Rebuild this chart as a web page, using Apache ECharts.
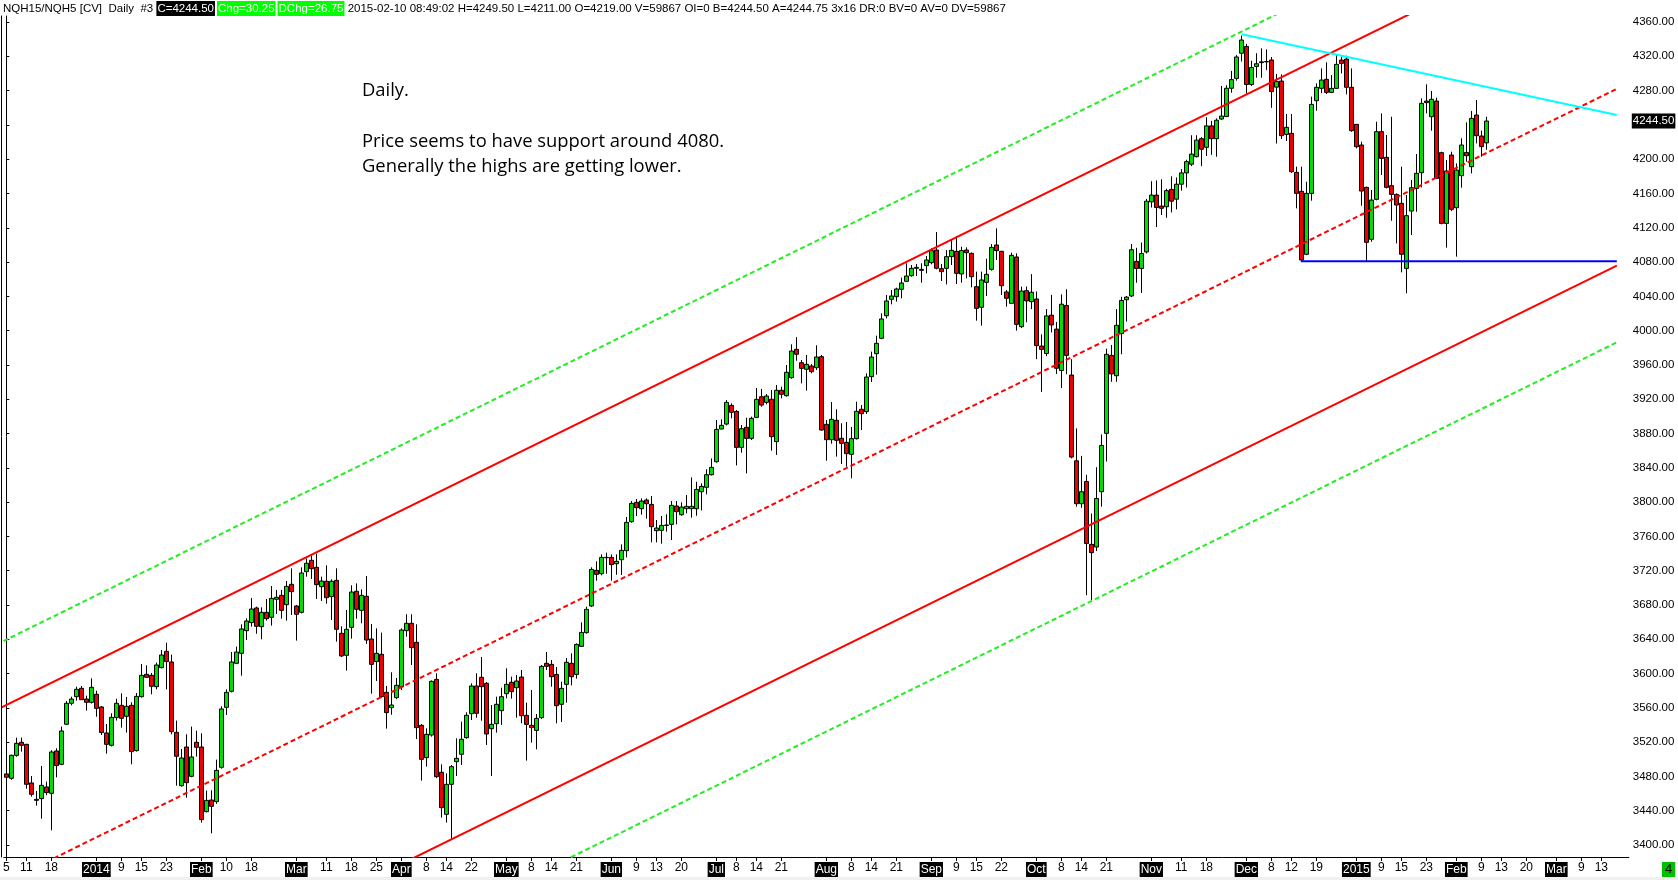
<!DOCTYPE html>
<html><head><meta charset="utf-8">
<script src="https://cdn.jsdelivr.net/npm/echarts@6/dist/echarts.min.js"></script>
<style>html,body{margin:0;padding:0;background:#fff;overflow:hidden}#c{width:1678px;height:880px}</style>
</head><body><div id="c"></div>
<script>
// ---------- DATA ----------
const firstDay = '2013-12-05';
const lastTradedDay = '2015-02-10';
const totalSlots = 325; // trading days shown incl. future blank days
const holidays = ['2013-12-25','2014-01-01','2014-01-20','2014-02-17','2014-04-18','2014-05-26','2014-07-04','2014-09-01','2014-11-27','2014-12-25','2015-01-01','2015-01-19'];

const opens = [3482.9,3477.8,3504.6,3519.8,3517.4,3472.4,3453.3,3454.1,3467.7,3460.3,
3509.7,3494.1,3540.8,3565.3,3573.0,3582.8,3570.3,3566.4,3575.8,3561.0,
3530.7,3516.3,3548.6,3562.9,3550.1,3562.9,3510.1,3573.0,3599.1,3597.9,
3584.7,3606.9,3625.9,3613.5,3531.4,3469.2,3514.3,3480.1,3519.8,3514.3,
3438.9,3452.5,3450.6,3490.6,3560.6,3579.3,3611.9,3623.6,3650.0,3659.4,
3676.5,3654.7,3671.4,3665.6,3686.6,3691.2,3680.3,3704.1,3678.8,3671.4,
3718.8,3732.1,3723.9,3701.3,3707.6,3689.7,3708.7,3646.9,3621.2,3653.9,
3695.9,3673.7,3690.1,3640.3,3613.9,3622.4,3578.1,3560.2,3571.9,3584.7,
3650.0,3658.6,3636.4,3539.6,3501.9,3528.3,3593.2,3484.8,3435.8,3470.8,
3497.2,3505.8,3525.2,3553.2,3585.5,3595.6,3588.6,3535.7,3541.5,3556.7,
3576.5,3589.8,3583.5,3595.9,3551.2,3539.6,3533.7,3548.5,3611.9,3610.7,
3599.0,3564.1,3587.4,3611.9,3599.0,3631.7,3647.7,3678.8,3720.4,3716.5,
3735.1,3735.5,3728.1,3732.8,3743.3,3777.1,3799.7,3792.3,3802.4,3797.3,
3766.6,3767.0,3772.8,3774.0,3795.4,3785.3,3792.3,3792.3,3792.3,3812.1,
3817.2,3831.9,3847.1,3885.2,3891.0,3912.8,3905.8,3863.8,3887.2,3874.3,
3898.8,3922.9,3916.3,3919.9,3870.5,3930.4,3924.1,3945.1,3978.2,3962.6,
3954.9,3958.7,3956.8,3969.6,3890.7,3872.8,3895.4,3874.4,3869.7,3855.7,
3874.0,3908.2,3905.5,3946.3,3973.1,3991.0,4017.4,4036.5,4039.6,4048.2,
4057.5,4064.1,4072.7,4071.5,4075.8,4079.3,4094.0,4072.3,4072.7,4086.3,
4092.5,4066.1,4094.0,4090.2,4051.3,4027.2,4056.3,4071.5,4099.9,4092.5,
4045.1,4031.8,4085.9,4004.6,4046.6,4033.8,4036.9,3982.0,3973.3,4018.0,
4001.8,3953.5,4029.4,3948.2,3848.1,3798.1,3824.0,3750.7,3747.6,3812.1,
3880.2,3971.1,3947.4,3996.5,4036.0,4040.4,4080.8,4072.5,4091.8,4150.2,
4158.1,4145.3,4144.5,4164.7,4153.3,4170.8,4184.0,4194.1,4202.9,4223.9,
4213.8,4238.8,4223.9,4246.8,4249.8,4282.7,4294.2,4323.6,4331.5,4287.1,
4308.2,4312.6,4313.5,4315.7,4284.0,4291.1,4228.9,4230.1,4184.6,4162.5,
4089.0,4160.1,4268.2,4282.6,4293.1,4277.9,4282.6,4315.6,4316.8,4283.8,
4240.6,4216.5,4167.1,4106.5,4153.1,4232.1,4202.1,4169.1,4158.9,4148.5,
4072.6,4139.5,4165.9,4184.2,4267.8,4249.5,4267.8,4207.6,4125.1,4204.8,
4143.4,4180.7,4207.9,4191.2,4251.5,4227.0,4219.0];

const closes = [3479.0,3504.6,3518.6,3516.3,3470.8,3459.1,3452.1,3469.6,3461.1,3508.5,
3492.6,3533.0,3565.3,3570.3,3581.6,3569.5,3566.4,3583.9,3559.4,3531.1,
3517.4,3548.9,3565.3,3547.8,3561.8,3508.9,3573.4,3597.9,3595.6,3585.1,
3610.0,3621.6,3613.9,3532.2,3503.5,3501.5,3472.7,3502.7,3514.0,3429.6,
3452.1,3445.1,3487.1,3558.7,3578.1,3613.5,3625.1,3652.0,3661.3,3675.3,
3655.1,3671.4,3664.0,3687.7,3688.9,3673.7,3701.7,3695.5,3669.1,3717.3,
3728.6,3722.3,3703.7,3707.9,3688.5,3707.6,3651.6,3620.5,3651.6,3695.1,
3674.9,3691.2,3639.1,3610.7,3623.6,3573.0,3554.4,3563.3,3586.3,3650.8,
3658.6,3630.2,3536.9,3499.9,3529.1,3590.9,3479.7,3443.6,3470.8,3491.4,
3501.1,3523.3,3551.3,3585.5,3553.6,3584.7,3529.5,3540.8,3564.1,3573.0,
3587.4,3578.9,3591.3,3550.8,3540.7,3536.9,3547.7,3608.4,3608.4,3596.3,
3562.5,3582.7,3613.1,3596.3,3634.0,3648.0,3674.9,3721.5,3715.7,3735.5,
3735.5,3727.0,3730.9,3743.7,3776.3,3798.5,3793.5,3801.2,3798.1,3771.3,
3769.7,3772.8,3773.2,3796.2,3788.8,3794.2,3795.0,3795.0,3814.8,3818.3,
3831.9,3840.5,3884.8,3889.5,3916.3,3904.7,3863.8,3885.6,3874.3,3897.7,
3919.8,3913.2,3923.7,3876.3,3930.4,3925.7,3951.4,3976.2,3972.4,3956.0,
3960.7,3952.1,3969.2,3884.1,3872.8,3896.5,3872.0,3868.5,3856.5,3874.0,
3905.9,3903.1,3945.9,3969.2,3985.2,4013.6,4034.6,4040.4,4048.6,4055.6,
4063.7,4072.7,4073.8,4070.3,4082.4,4093.3,4072.7,4068.8,4086.3,4093.7,
4066.8,4093.3,4090.9,4062.9,4026.0,4059.1,4065.7,4097.1,4093.3,4052.4,
4037.7,4087.8,4007.3,4046.2,4034.7,4044.8,3982.5,3978.1,4017.2,4006.6,
3956.1,4030.8,3971.1,3852.5,3798.1,3812.1,3751.6,3741.0,3804.2,3866.1,
3972.4,3949.5,4006.2,4035.2,4039.1,4094.4,4072.5,4090.0,4151.0,4158.1,
4143.6,4142.7,4163.3,4151.0,4170.8,4184.0,4197.1,4205.9,4222.2,4211.6,
4238.8,4223.9,4245.4,4250.3,4282.7,4292.8,4319.2,4339.0,4287.1,4306.9,
4311.3,4313.5,4313.9,4278.8,4290.5,4227.4,4237.1,4185.4,4160.1,4082.4,
4160.1,4263.9,4283.8,4292.3,4277.9,4282.6,4310.6,4311.7,4283.8,4233.2,
4214.5,4162.8,4103.0,4152.3,4232.1,4200.9,4167.1,4158.9,4146.5,4089.0,
4134.1,4166.7,4183.5,4265.1,4265.9,4269.8,4177.6,4125.1,4186.2,4141.5,
4187.3,4216.5,4204.0,4247.6,4227.4,4214.6,4244.5];

const lows = [3469.2,3476.0,3503.0,3508.9,3465.7,3456.4,3445.9,3430.7,3458.0,3417.1,
3479.0,3493.0,3540.0,3562.9,3568.4,3569.1,3556.7,3565.0,3549.7,3528.3,
3506.6,3515.0,3545.1,3536.9,3531.1,3494.1,3509.0,3571.9,3595.0,3575.8,
3581.6,3606.0,3581.6,3529.1,3469.2,3468.0,3455.2,3479.0,3503.1,3426.1,
3438.0,3413.6,3447.9,3489.0,3551.7,3578.0,3611.0,3597.5,3639.1,3654.7,
3646.5,3639.9,3661.7,3655.9,3669.5,3664.0,3661.7,3668.3,3638.4,3670.0,
3713.0,3710.3,3687.0,3684.6,3681.5,3662.5,3637.2,3619.3,3603.4,3640.7,
3664.0,3658.6,3634.5,3576.5,3591.3,3572.0,3535.7,3552.0,3570.0,3580.8,
3643.0,3610.0,3523.7,3475.1,3491.4,3526.4,3478.0,3431.9,3426.1,3406.6,
3480.5,3493.3,3524.0,3545.8,3548.5,3545.0,3516.7,3480.5,3531.1,3540.0,
3571.1,3570.7,3548.5,3541.9,3498.4,3519.4,3511.6,3547.0,3604.1,3584.7,
3541.9,3543.5,3566.0,3586.2,3594.0,3631.0,3646.5,3677.6,3708.3,3714.5,
3716.5,3708.3,3715.3,3715.0,3735.5,3776.0,3783.7,3785.3,3780.6,3753.0,
3753.0,3751.5,3765.5,3755.7,3774.0,3784.0,3786.8,3781.8,3784.1,3790.3,
3809.0,3831.0,3846.0,3885.0,3889.5,3897.7,3842.8,3857.6,3833.5,3872.4,
3898.0,3911.3,3914.0,3860.0,3855.0,3921.0,3923.0,3944.0,3964.9,3938.5,
3930.0,3950.2,3954.1,3883.3,3848.3,3868.1,3853.0,3844.4,3841.3,3827.7,
3873.0,3884.1,3902.8,3940.1,3948.6,3990.0,4014.3,4030.7,4033.8,4037.7,
4057.0,4062.9,4063.7,4055.9,4066.8,4077.3,4071.5,4057.9,4054.0,4076.5,
4054.4,4055.9,4061.0,4050.5,4011.6,4005.8,4040.4,4070.0,4082.4,4041.6,
4028.0,4031.0,4000.0,4003.0,4009.7,4025.1,3966.7,3928.5,3970.2,3997.8,
3949.5,3932.9,3949.1,3851.0,3794.6,3793.3,3691.4,3684.8,3742.8,3794.6,
3847.3,3940.3,3940.3,3972.4,4010.6,4039.0,4055.8,4043.9,4090.0,4143.6,
4120.8,4134.8,4131.7,4137.9,4141.4,4163.3,4166.9,4191.9,4202.0,4191.9,
4203.7,4205.0,4202.9,4245.9,4249.0,4277.5,4291.5,4313.9,4276.6,4285.4,
4295.0,4295.0,4303.8,4259.9,4218.3,4223.5,4221.2,4184.0,4142.6,4081.2,
4088.0,4151.6,4256.5,4276.8,4276.0,4277.0,4281.8,4300.1,4275.6,4232.0,
4212.6,4145.7,4081.2,4103.7,4152.0,4181.5,4165.9,4128.2,4101.8,4068.0,
4043.5,4111.5,4138.7,4167.1,4253.4,4233.2,4176.8,4124.0,4096.8,4139.5,
4086.3,4166.7,4197.1,4183.4,4218.4,4202.9,4211.0];

const highs = [3492.2,3505.4,3525.2,3525.2,3518.0,3480.5,3463.0,3492.2,3473.9,3510.5,
3512.8,3538.1,3568.0,3573.0,3584.7,3585.5,3574.2,3594.4,3580.0,3562.0,
3541.2,3553.6,3570.7,3576.9,3572.7,3566.4,3577.3,3611.2,3609.6,3600.7,
3612.7,3627.5,3636.0,3622.0,3545.1,3512.0,3529.1,3538.1,3533.4,3530.3,
3463.4,3463.8,3499.6,3561.8,3581.6,3625.1,3631.4,3657.4,3664.4,3688.0,
3678.0,3677.2,3687.0,3702.1,3697.5,3697.5,3707.9,3722.7,3680.0,3723.9,
3734.4,3737.9,3739.8,3713.0,3726.2,3709.9,3722.7,3655.1,3674.1,3702.9,
3705.2,3698.2,3713.8,3657.8,3652.7,3647.7,3585.5,3601.4,3594.8,3652.7,
3669.1,3669.1,3657.4,3541.0,3536.1,3592.0,3600.3,3494.1,3483.6,3493.3,
3524.4,3543.9,3554.8,3588.6,3600.3,3619.3,3590.1,3563.3,3573.0,3583.5,
3606.1,3596.4,3598.3,3604.1,3566.0,3580.8,3552.8,3610.0,3625.1,3615.8,
3607.6,3590.5,3618.1,3623.6,3635.2,3659.7,3678.0,3723.9,3730.9,3739.0,
3741.0,3739.0,3739.0,3750.7,3782.6,3801.2,3803.6,3804.3,3804.3,3807.1,
3779.1,3783.7,3785.7,3801.2,3801.2,3799.7,3808.2,3828.8,3823.8,3821.8,
3838.2,3851.0,3895.7,3896.5,3919.0,3915.1,3907.4,3889.9,3898.4,3899.6,
3933.0,3932.0,3926.0,3930.7,3936.6,3934.6,3959.9,3984.0,3992.4,3965.7,
3971.6,3961.1,3982.9,3971.6,3895.8,3916.7,3908.2,3891.9,3893.4,3887.6,
3917.1,3913.2,3950.2,3975.5,3994.1,4020.2,4041.6,4047.4,4050.1,4061.8,
4078.5,4076.5,4077.7,4078.5,4087.0,4096.0,4115.0,4077.7,4094.0,4105.7,
4110.4,4097.9,4097.1,4091.0,4068.8,4068.8,4083.9,4101.0,4119.3,4093.0,
4047.4,4090.9,4090.2,4051.3,4051.4,4065.9,4045.7,3995.6,4025.1,4041.7,
4010.1,4042.2,4048.3,3966.7,3885.9,3853.9,3831.9,3786.7,3840.7,3878.9,
3979.0,3983.3,4025.1,4039.5,4040.4,4101.0,4096.6,4102.8,4153.7,4174.3,
4175.2,4176.5,4165.5,4180.0,4178.7,4188.4,4199.3,4227.9,4227.9,4225.7,
4248.9,4244.6,4247.6,4285.4,4286.3,4302.9,4321.4,4344.2,4334.5,4314.8,
4323.6,4329.3,4328.0,4319.2,4299.4,4298.9,4252.7,4252.7,4191.2,4191.2,
4173.7,4272.9,4288.4,4305.9,4312.9,4298.1,4321.5,4319.5,4320.7,4305.9,
4241.0,4220.4,4168.0,4164.0,4243.7,4253.4,4228.2,4249.5,4160.0,4191.2,
4158.2,4175.7,4206.0,4270.9,4287.3,4279.5,4271.7,4208.7,4199.0,4208.7,
4195.1,4224.3,4242.9,4256.2,4269.0,4233.2,4249.5];

const yTicks = [3400,3440,3480,3520,3560,3600,3640,3680,3720,3760,3800,3840,3880,3920,3960,4000,4040,4080,4120,4160,4200,4240,4280,4320,4360];
const yMin = 3386, yMax = 4367;

// [date, text, boxed]
const xTickLabels = [
['2013-12-05','5',0],['2013-12-11','11',0],['2013-12-18','18',0],
['2014-01-02','2014',1],['2014-01-09','9',0],['2014-01-15','15',0],['2014-01-23','23',0],
['2014-02-03','Feb',1],['2014-02-10','10',0],['2014-02-18','18',0],
['2014-03-03','Mar',1],['2014-03-11','11',0],['2014-03-18','18',0],['2014-03-25','25',0],
['2014-04-01','Apr',1],['2014-04-08','8',0],['2014-04-14','14',0],['2014-04-22','22',0],
['2014-05-01','May',1],['2014-05-08','8',0],['2014-05-14','14',0],['2014-05-21','21',0],
['2014-06-02','Jun',1],['2014-06-09','9',0],['2014-06-13','13',0],['2014-06-20','20',0],
['2014-07-01','Jul',1],['2014-07-08','8',0],['2014-07-14','14',0],['2014-07-21','21',0],
['2014-08-01','Aug',1],['2014-08-08','8',0],['2014-08-14','14',0],['2014-08-21','21',0],
['2014-09-02','Sep',1],['2014-09-09','9',0],['2014-09-15','15',0],['2014-09-22','22',0],
['2014-10-01','Oct',1],['2014-10-08','8',0],['2014-10-14','14',0],['2014-10-21','21',0],
['2014-11-03','Nov',1],['2014-11-11','11',0],['2014-11-18','18',0],
['2014-12-01','Dec',1],['2014-12-08','8',0],['2014-12-12','12',0],['2014-12-19','19',0],
['2015-01-02','2015',1],['2015-01-09','9',0],['2015-01-15','15',0],['2015-01-23','23',0],
['2015-02-02','Feb',1],['2015-02-09','9',0],['2015-02-13','13',0],['2015-02-20','20',0],
['2015-03-02','Mar',1],['2015-03-09','9',0],['2015-03-13','13',0]
];

// trend lines: [[tradingDayIndex, price], ...]
const upperRed   = [[-2, 3557.7], [290, 4396.0]];
const upperGreen = [[-2, 3633.8], [260, 4386.0]];
const midRed     = [[-2, 3351.5], [322.1, 4282.0]];
const lowerRed   = [[60, 3323.3], [322.1, 4075.8]];
const lowerGreen = [[100, 3348.6], [322.1, 3986.3]];
const cyanLine   = [[247.1, 4345.7], [322.1, 4251.5]];
const supportLine= [[258.9, 4081.0], [322.1, 4081.0]];

const headerInfo = {sym:'NQH15/NQH5 [CV]', per:'Daily', num:'#3', chg:'30.25', dchg:'26.75', time:'2015-02-10 08:49:02',
  rest:'V=59867 OI=0 B=4244.50 A=4244.75 3x16 DR:0 BV=0 AV=0 DV=59867'};

// ---------- BUILD ----------
function buildDates(){
  const out=[]; const d=new Date(firstDay+'T00:00:00Z');
  while(out.length<totalSlots){
    const wd=d.getUTCDay(); const s=d.toISOString().slice(0,10);
    if(wd!==0 && wd!==6 && !(s<=lastTradedDay && holidays.indexOf(s)>=0)) out.push(s);
    d.setUTCDate(d.getUTCDate()+1);
  }
  return out;
}
const dates = buildDates();
const labelMap = {}; xTickLabels.forEach(([d,t,b])=>{labelMap[d]={t:t,b:b};});
const candles = opens.map((o,i)=>[o, closes[i], lows[i], highs[i]]);
const n = opens.length-1;
const lastC = closes[n];
const yLabelValues = yTicks.filter(v=>Math.abs(v-lastC)>12);

const fnt = '"Liberation Sans",Arial,sans-serif';

const header = '{n|'+headerInfo.sym+'  '+headerInfo.per+'  '+headerInfo.num+' }{k|C='+lastC.toFixed(2)+'}{s| }{g|Chg='+headerInfo.chg+'}{s| }{g|DChg='+headerInfo.dchg+'}{n| '+headerInfo.time+' H='+highs[n].toFixed(2)+' L='+lows[n].toFixed(2)+' O='+opens[n].toFixed(2)+' '+headerInfo.rest+'}';

function lineSeries(pts, color, type){
  return {type:'line', xAxisIndex:1, yAxisIndex:0, data:pts, symbol:'none', silent:true, clip:true, z:5,
    lineStyle:{color:color, width:2, type:type}, animation:false};
}

const chart = echarts.init(document.getElementById('c'));
chart.setOption({
  animation:false,
  backgroundColor:'#ffffff',
  title:[
    {left:3, top:1, text:header, padding:0, textStyle:{fontSize:11.5, fontWeight:'normal', fontFamily:fnt, color:'#000',
      rich:{
        n:{fontSize:11.5, fontFamily:fnt, color:'#000', fontWeight:'normal'},
        s:{fontSize:11.5, fontFamily:fnt, width:2},
        k:{fontSize:11.5, fontFamily:fnt, color:'#fff', backgroundColor:'#000', padding:[2,1,1,1]},
        g:{fontSize:11.5, fontFamily:fnt, color:'#fff', backgroundColor:'#00ff00', padding:[2,1,1,1]}
      }}},
    {left:362, top:78, padding:0, text:'Daily.\n\nPrice seems to have support around 4080.\nGenerally the highs are getting lower.',
      textStyle:{fontFamily:'"Open Sans","Noto Sans",sans-serif', fontSize:18.4, fontWeight:'normal', color:'#000', lineHeight:25.5}},
    {left:1662, top:862, padding:[1,3], backgroundColor:'#00c000', text:'4',
      textStyle:{fontFamily:fnt, fontSize:13, fontWeight:'normal', color:'#000'}}
  ],
  graphic:[
    {type:'rect', left:0, top:877, shape:{width:1678, height:3}, style:{fill:'#f0f0f0'}, silent:true}
  ],
  grid:{left:3.8, right:49.2, top:16, bottom:23},
  xAxis:[
    {type:'category', data:dates, boundaryGap:true,
      axisLine:{show:true, lineStyle:{color:'#000', width:1}},
      axisTick:{show:true, alignWithLabel:true, length:4, interval:(i,v)=>!!labelMap[v], lineStyle:{color:'#000'}},
      axisLabel:{show:true, margin:5, interval:(i,v)=>!!labelMap[v],
        formatter:(v)=>{const m=labelMap[v]; if(!m) return ''; return m.b?('{b|'+m.t+'}'):('{t|'+m.t+'}');},
        rich:{
          t:{fontFamily:fnt, fontSize:12, color:'#000'},
          b:{fontFamily:fnt, fontSize:12, color:'#fff', backgroundColor:'#000', padding:[2,1,1,1]}
        }},
      splitLine:{show:false}},
    {type:'value', min:-0.5, max:totalSlots-0.5, show:false}
  ],
  yAxis:[
    {type:'value', position:'right', min:yMin, max:yMax, scale:true,
      axisLine:{show:true, lineStyle:{color:'#000', width:1}},
      axisTick:{show:true, length:3, customValues:yTicks, lineStyle:{color:'#000'}},
      axisLabel:{show:true, margin:4, customValues:yLabelValues, formatter:(v)=>Number(v).toFixed(2),
        fontFamily:fnt, fontSize:11.5, color:'#000'},
      splitLine:{show:false}},
    {type:'value', position:'left', offset:3, min:yMin, max:yMax,
      axisLine:{show:true, lineStyle:{color:'#000', width:1}},
      axisTick:{show:false}, axisLabel:{show:false}, splitLine:{show:false}}
  ],
  series:[
    {type:'candlestick', xAxisIndex:0, yAxisIndex:0, data:candles, barWidth:4, z:2,
      itemStyle:{color:'#00dd00', color0:'#ee0000', borderColor:'#000', borderColor0:'#000', borderColorDoji:'#000', borderWidth:1},
      emphasis:{disabled:true},
      markLine:{symbol:'none', silent:true, animation:false,
        data:[{yAxis:lastC}],
        lineStyle:{color:'rgba(0,0,0,0)', width:1, type:'solid'},
        label:{show:true, position:'end', distance:3, formatter:()=>lastC.toFixed(2),
          backgroundColor:'#000', color:'#fff', padding:[2,1,1,1], fontFamily:fnt, fontSize:11.5, opacity:1}}},
    lineSeries(upperGreen, '#22ee22', [5,3]),
    lineSeries(upperRed, '#ff0000', 'solid'),
    lineSeries(midRed, '#ff0000', [5,3]),
    lineSeries(lowerRed, '#ff0000', 'solid'),
    lineSeries(lowerGreen, '#22ee22', [5,3]),
    lineSeries(cyanLine, '#00ffff', 'solid'),
    lineSeries(supportLine, '#0000ff', 'solid')
  ]
});
</script>
</body></html>
